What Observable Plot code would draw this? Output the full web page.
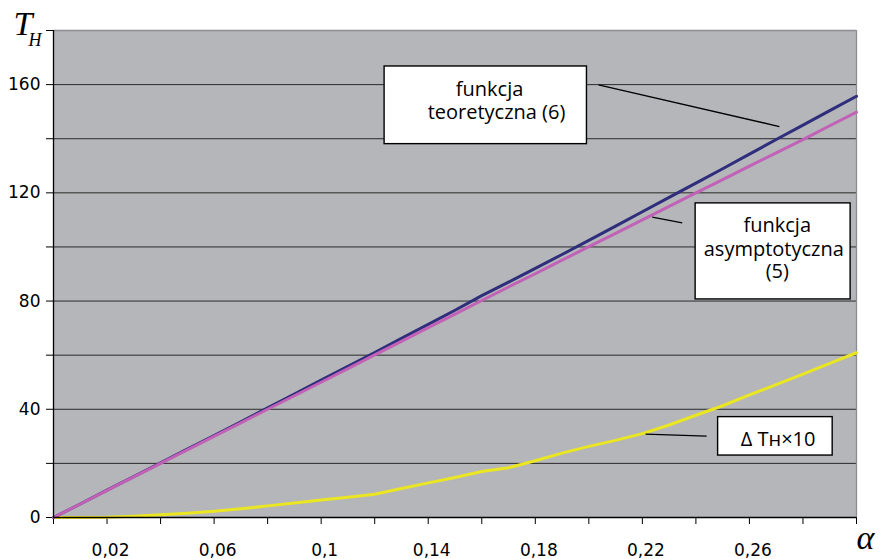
<!DOCTYPE html>
<html>
<head>
<meta charset="utf-8">
<script src="https://cdn.jsdelivr.net/npm/d3@7"></script>
<script src="https://cdn.jsdelivr.net/npm/@observablehq/plot@0.6"></script>
<style>
  body { margin: 0; background: #fff; }
  #chart { width: 880px; height: 559px; }
</style>
</head>
<body>
<div id="chart"></div>
<script>
// ---- data ----
const alpha = [0, 0.01, 0.02, 0.03, 0.04, 0.05, 0.06, 0.07, 0.08, 0.09, 0.10,
  0.11, 0.12, 0.13, 0.14, 0.15, 0.16, 0.17, 0.18, 0.19, 0.20,
  0.21, 0.22, 0.23, 0.24, 0.25, 0.26, 0.27, 0.28, 0.29, 0.30];
const teoretyczna = [0, 5.0, 10.1, 15.1, 20.2, 25.3, 30.3, 35.4, 40.5, 45.6, 50.8,
  55.9, 61.0, 66.2, 71.4, 76.6, 82.0, 87.0, 92.1, 97.2, 102.4,
  107.7, 113.0, 118.3, 123.6, 128.9, 134.3, 139.7, 145.0, 150.4, 155.7];
const asymptotyczna = [0, 5.0, 10.0, 15.0, 20.0, 25.0, 30.0, 35.0, 40.0, 45.0, 50.0,
  55.0, 60.1, 65.1, 70.2, 75.2, 80.2, 85.2, 90.1, 95.1, 100.1,
  105.0, 110.0, 115.0, 120.0, 124.9, 129.9, 134.8, 139.7, 144.8, 149.8];
const deltaTH10 = [0, 0, 0.1, 0.5, 1.0, 1.6, 2.3, 3.2, 4.3, 5.4, 6.5,
  7.5, 8.6, 10.7, 12.8, 14.8, 17.0, 18.4, 21.0, 23.8, 26.3,
  28.5, 31.0, 34.2, 37.8, 41.3, 45.3, 49.1, 53.0, 57.0, 60.9];

const xTicks = [0, 0.02, 0.04, 0.06, 0.08, 0.10, 0.12, 0.14, 0.16, 0.18, 0.20, 0.22, 0.24, 0.26, 0.28, 0.30];
const xTickLabels = [0.02, 0.06, 0.10, 0.14, 0.18, 0.22, 0.26];
const yTicks = [0, 20, 40, 60, 80, 100, 120, 140, 160, 180];
const yTickLabels = [0, 40, 80, 120, 160];
const yGrid = [20, 40, 60, 80, 100, 120, 140, 160];

const boxLines = ["funkcja", "teoretyczna (6)", "funkcja", "asymptotyczna", "(5)", "Δ Tн×10"];

// ---- annotation placement (data coordinates) ----
const boxes = [
  {x1: 0.1237, x2: 0.1993, y1: 138.0, y2: 166.7},
  {x1: 0.2399, x2: 0.2978, y1: 80.6, y2: 116.1},
  {x1: 0.2483, x2: 0.2911, y1: 22.9, y2: 37.1}
];
const lineBaselines = [
  {x: 0.1629, y: 155.9},
  {x: 0.1655, y: 147.4},
  {x: 0.2704, y: 105.4},
  {x: 0.2691, y: 96.8},
  {x: 0.2704, y: 88.7},
  {x: 0.2707, y: 26.6}
];
const leaders = [
  {x1: 0.2036, y1: 159.9, x2: 0.2712, y2: 144.5},
  {x1: 0.2237, y1: 111.0, x2: 0.2349, y2: 108.9},
  {x1: 0.2212, y1: 30.8, x2: 0.2440, y2: 30.05}
];

// ---- styles ----
const colTeor = "#2f2e7c";
const colAsym = "#c262b6";
const colDelta = "#ebe622";

const rows = (vals) => alpha.map((a, i) => ({alpha: a, value: vals[i]}));
const fmt = d => String(d).replace(".", ",");

const chart = Plot.plot({
  width: 880,
  height: 559,
  marginLeft: 53,
  marginRight: 24,
  marginTop: 30,
  marginBottom: 42,
  x: {domain: [0, 0.30]},
  y: {domain: [0, 180]},
  style: {fontFamily: "DejaVu Sans", fontSize: "17px", color: "black", background: "white"},
  marks: [
    Plot.frame({fill: "#b5b6ba", stroke: null}),
    Plot.ruleY(yGrid, {stroke: "#2a2a2a", strokeWidth: 1}),
    Plot.ruleY([180], {stroke: "#8d8d8f", strokeWidth: 1.3}),
    Plot.ruleX([0.30], {stroke: "#8d8d8f", strokeWidth: 1.3}),
    Plot.axisY(yTicks, {tickSize: 7, tickFormat: () => "", label: null}),
    Plot.axisY(yTickLabels, {tickSize: 0, tickPadding: 13, fontSize: 17, label: null}),
    Plot.axisX(xTicks, {tickSize: 7, tickFormat: () => "", label: null}),
    Plot.axisX(xTickLabels, {tickSize: 0, tickPadding: 26, dx: 3.5, tickFormat: fmt, fontSize: 17, label: null}),
    Plot.line(rows(deltaTH10), {x: "alpha", y: "value", stroke: colDelta, strokeWidth: 3}),
    Plot.line(rows(teoretyczna), {x: "alpha", y: "value", stroke: colTeor, strokeWidth: 3}),
    Plot.line(rows(asymptotyczna), {x: "alpha", y: "value", stroke: colAsym, strokeWidth: 3}),
    Plot.ruleX([0], {stroke: "black", strokeWidth: 1.3}),
    Plot.ruleY([0], {stroke: "black", strokeWidth: 1.3}),
    Plot.link(leaders, {x1: "x1", y1: "y1", x2: "x2", y2: "y2", stroke: "black", strokeWidth: 1.3}),
    Plot.rect(boxes, {x1: "x1", x2: "x2", y1: "y1", y2: "y2", fill: "white", stroke: "black", strokeWidth: 1.4}),
    Plot.text(boxLines, {
      x: (d, i) => lineBaselines[i].x, y: (d, i) => lineBaselines[i].y,
      text: d => d, textAnchor: "middle", lineAnchor: "bottom",
      fontFamily: "Open Sans", fontSize: 20, fill: "black"
    }),
    Plot.text(["T"], {frameAnchor: "top-left", text: d => d, textAnchor: "start", lineAnchor: "bottom",
      dx: -40, dy: 4, fontFamily: "Liberation Serif", fontStyle: "italic", fontSize: 34, fill: "black"}),
    Plot.text(["H"], {frameAnchor: "top-left", text: d => d, textAnchor: "start", lineAnchor: "bottom",
      dx: -25, dy: 15, fontFamily: "Liberation Serif", fontStyle: "italic", fontSize: 18, fill: "black"}),
    Plot.text(["α"], {frameAnchor: "bottom-right", text: d => d, textAnchor: "start", lineAnchor: "bottom",
      dx: 0, dy: 31, fontFamily: "Liberation Serif", fontStyle: "italic", fontSize: 34, fill: "black"})
  ]
});
document.getElementById("chart").appendChild(chart);
</script>
</body>
</html>
